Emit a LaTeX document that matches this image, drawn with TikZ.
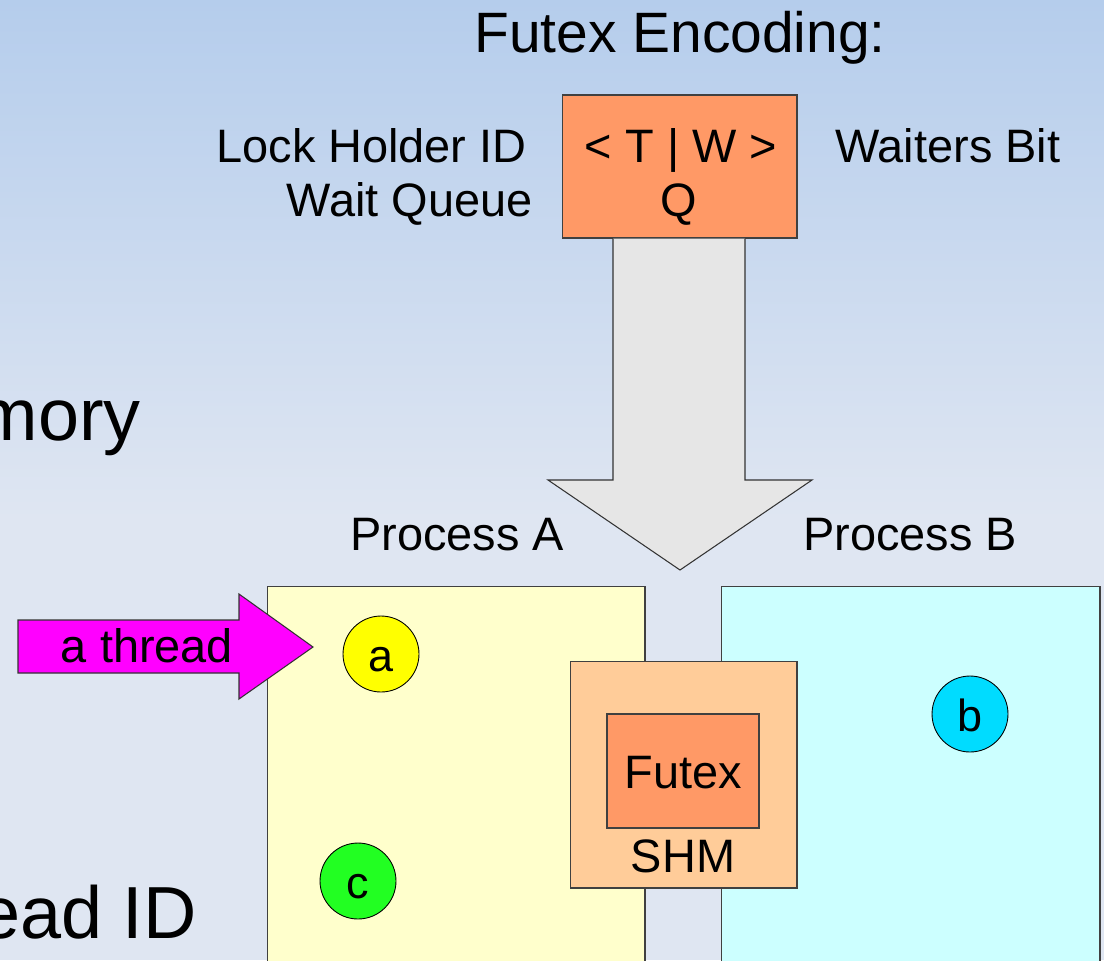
\documentclass[tikz,border=0pt]{standalone}
\usepackage{fontspec}
\setmainfont{Liberation Sans}
\begin{document}
\begin{tikzpicture}[x=0.02cm, y=-0.02cm,
  txt/.style={inner sep=0pt, font=\fontsize{26.7pt}{32pt}\selectfont},
  bigtxt/.style={inner sep=0pt, font=\fontsize{42pt}{50pt}\selectfont},
  titletxt/.style={inner sep=0pt, font=\fontsize{32.4pt}{38pt}\selectfont},
  block/.style={draw=black!75, line width=0.6pt, inner sep=0pt},
  thread/.style={circle, draw=black, line width=0.5pt, minimum size=1.52cm,
    inner sep=0pt, text height=0.7cm, text depth=0cm,
    font=\fontsize{25.6pt}{30pt}\selectfont},
  bigarrow/.style={draw=black!80, line width=0.6pt, line join=miter}
]
\definecolor{bgtop}{HTML}{B5CDEC}
\definecolor{bgbot}{HTML}{DFE6F2}
\definecolor{futexor}{HTML}{FF9966}
\definecolor{shmor}{HTML}{FFCC99}
\definecolor{procA}{HTML}{FFFFCC}
\definecolor{procB}{HTML}{CCFFFF}
\definecolor{arrgray}{HTML}{E6E6E6}
\definecolor{thrA}{HTML}{FFFF00}
\definecolor{thrB}{HTML}{00DCFF}
\definecolor{thrC}{HTML}{22FF22}
\definecolor{thrarrow}{HTML}{FF00FF}

\useasboundingbox (0,0) rectangle (1104,960);
\clip (0,0) rectangle (1104,960);

% slide background
\shade[top color=bgtop, bottom color=bgbot] (0,0) rectangle (1104,520);
\fill[bgbot] (0,519) rectangle (1104,960);

% leftover slide text
\node[bigtxt, anchor=base east] (mem) at (141,440) {mory};
\node[bigtxt, anchor=base east] (tid) at (197,938) {ead ID};

% futex encoding
\node[titletxt, anchor=base] (title) at (680,52) {Futex Encoding:};
\node[block, fill=futexor, minimum width=4.7cm, minimum height=2.86cm] (enc) at (679.5,166.5) {};
\node[txt, anchor=base] (tw) at (681,162) {< T | W >};
\node[txt, anchor=base] (q) at (679,216) {Q};
\node[txt, anchor=base east] (lhid) at (527,162) {Lock Holder ID};
\node[txt, anchor=base east] (wq) at (533,216) {Wait Queue};
\node[txt, anchor=base west] (wb) at (835,162) {Waiters Bit};

% processes
\node[txt, anchor=base] (labA) at (457,550) {Process A};
\node[txt, anchor=base] (labB) at (910,550) {Process B};
\node[block, fill=procA, minimum width=7.56cm, minimum height=8.28cm] (pA) at (456,793) {};
\node[block, fill=procB, minimum width=7.58cm, minimum height=8.28cm] (pB) at (910.5,793) {};

% shared memory holding the futex
\node[block, fill=shmor, minimum width=4.54cm, minimum height=4.54cm] (shm) at (683.5,774.5) {};
\node[block, fill=futexor, minimum width=3.04cm, minimum height=2.28cm] (futex) at (683,771) {};
\node[txt, anchor=base] (futexlab) at (683,788) {Futex};
\node[txt, anchor=base] (shmlab) at (683,872) {SHM};

% big arrow from the encoding down to the shared memory
\coordinate (tip) at (680,570);
\draw[bigarrow, fill=arrgray]
  (enc.south -| 613,0) -- (613,480) -- (548,480) -- (tip) -- (812,480)
  -- (745,480) -- (enc.south -| 745,0);

% threads
\node[thread, fill=thrA] (a) at (381,654) {a};
\node[thread, fill=thrB] (b) at (970,714) {b};
\node[thread, fill=thrC] (c) at (358,881) {c};

% incoming thread arrow
\coordinate (ttip) at (313,647);
\draw[bigarrow, fill=thrarrow]
  (18,620) -- (239,620) -- (239,594) -- (ttip) -- (239,699) -- (239,673)
  -- (18,673) -- cycle;
\node[txt, anchor=base] (thr) at (147,662) {a thread};
\end{tikzpicture}
\end{document}
